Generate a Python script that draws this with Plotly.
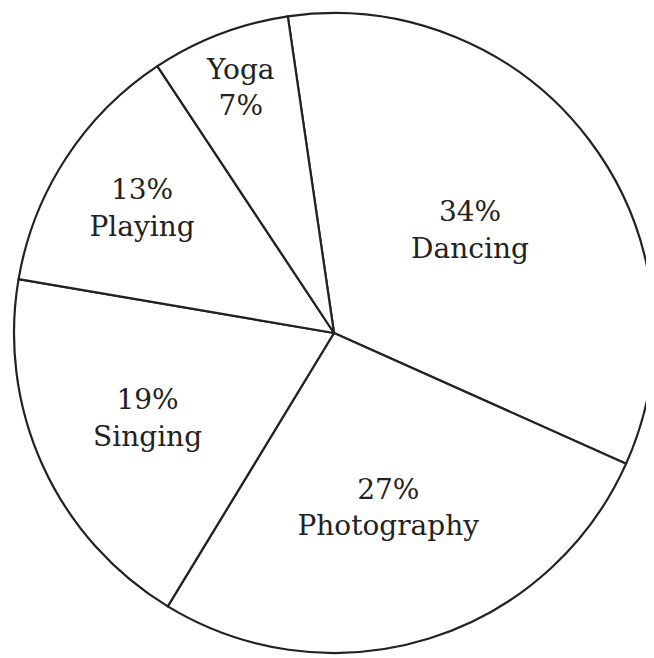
import plotly.graph_objects as go

labels = ["Dancing", "Photography", "Singing", "Playing", "Yoga"]
values = [34, 27, 19, 13, 7]
templates = ["%{value}%<br>%{label}", "%{value}%<br>%{label}", "%{value}%<br>%{label}",
             "%{value}%<br>%{label}", "%{label}<br>%{value}%"]

fig = go.Figure(go.Pie(
    labels=labels, values=values, sort=False, direction="clockwise", rotation=-8.3,
    texttemplate=templates, textposition="inside", insidetextorientation="horizontal",
    textfont=dict(family="DejaVu Serif", size=28, color="#222222"),
    marker=dict(colors=["white"] * 5, line=dict(color="#222222", width=2.2)),
    showlegend=False, hoverinfo="label+percent",
))
fig.update_layout(width=646, height=650, margin=dict(l=6, r=0, t=3, b=3),
                  paper_bgcolor="white", plot_bgcolor="white")
fig.write_html("out.html")
